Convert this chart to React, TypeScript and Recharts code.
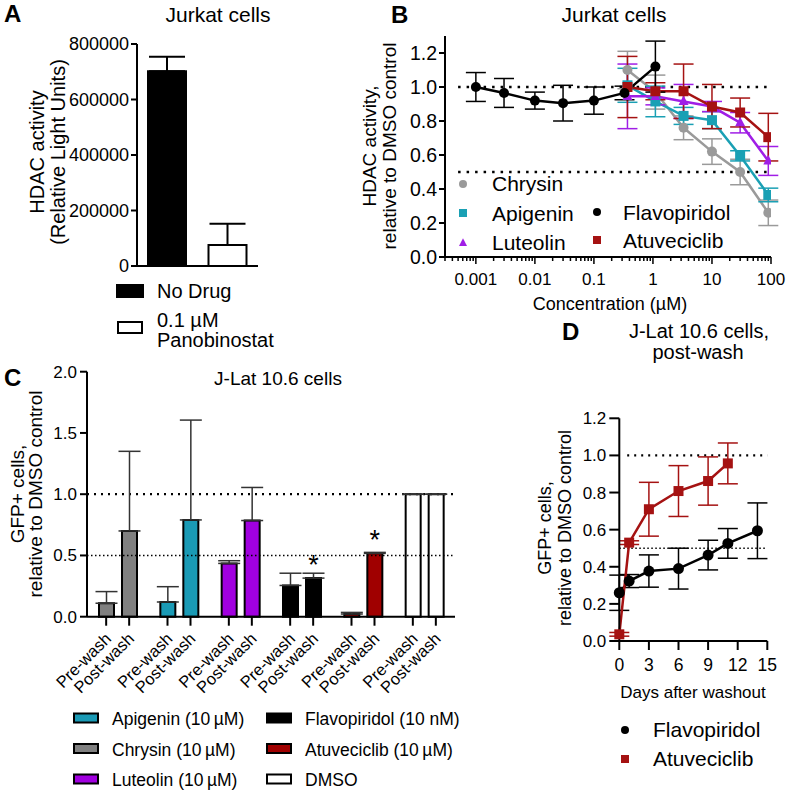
import React from 'react';
import {
  BarChart,
  Bar,
  ComposedChart,
  LineChart,
  Line,
  XAxis,
  YAxis,
  ErrorBar,
  Cell,
  ReferenceLine,
  LabelList,
} from 'recharts';

const FONT = '"Liberation Sans", Arial, Helvetica, sans-serif';

// panel A
const aGroups = ['No Drug', '0.1 µM Panobinostat'];
const aValues = [702000, 76000];
const aErrors = [52000, 76000];
const aFills = ['#000000', '#ffffff'];
const aTicks = [0, 200000, 400000, 600000, 800000];

// panel B
const bMajorTicks = [0.001, 0.01, 0.1, 1, 10, 100];
const bMajorLabels = ['0.001', '0.01', '0.1', '1', '10', '100'];
const bConc = [0.37, 1.1, 3.3, 10, 30, 90];
const flavoConc = [0.001, 0.003, 0.01, 0.03, 0.1, 0.33, 1.1];
const flavoVals = [1.0, 0.965, 0.92, 0.905, 0.92, 0.965, 1.12];
const flavoErr = [0.085, 0.085, 0.05, 0.105, 0.08, 0.04, 0.15];
const chrysinVals = [1.1, 0.97, 0.76, 0.62, 0.5, 0.26];
const chrysinErr = [0.11, 0.1, 0.07, 0.075, 0.075, 0.075];
const apigeninVals = [1.01, 0.915, 0.83, 0.805, 0.595, 0.365];
const apigeninErr = [0.1, 0.09, 0.05, 0.05, 0.03, 0.04];
const luteolinVals = [0.945, 0.945, 0.915, 0.885, 0.79, 0.565];
const luteolinErr = [0.19, 0.05, 0.1, 0.03, 0.06, 0.085];
const atuVals = [1.0, 0.975, 0.975, 0.885, 0.85, 0.705];
const atuErr = [0.18, 0.05, 0.16, 0.13, 0.085, 0.14];
const bYTicks = [0, 0.2, 0.4, 0.6, 0.8, 1.0, 1.2];

// panel C
const cDrugs = ['Chrysin', 'Apigenin', 'Luteolin', 'Flavopiridol', 'Atuveciclib', 'DMSO'];
const cPairLabels = ['Pre-wash', 'Post-wash'];
const cPre = [0.11, 0.12, 0.435, 0.255, 0.022, 1.0];
const cPreErr = [0.095, 0.125, 0.022, 0.1, 0.013, 0];
const cPost = [0.7, 0.79, 0.785, 0.315, 0.517, 1.0];
const cPostErr = [0.65, 0.815, 0.27, 0.04, 0.008, 0];
const cSig = ['', '', '', '*', '*', ''];
const cFills = ['#808080', '#1a9ab5', '#a100e0', '#000000', '#a00000', '#ffffff'];
const cYTicks = [0, 0.5, 1.0, 1.5, 2.0];
const cLegend = [
  ['Apigenin (10\u2009µM)', '#1a9ab5'],
  ['Chrysin (10\u2009µM)', '#808080'],
  ['Luteolin (10\u2009µM)', '#a100e0'],
  ['Flavopiridol (10 nM)', '#000000'],
  ['Atuveciclib (10\u2009µM)', '#a00000'],
  ['DMSO', '#ffffff'],
];

// panel D
const dFlavoDays = [0, 1, 3, 6, 9, 11, 14];
const dFlavoVals = [0.26, 0.323, 0.377, 0.39, 0.463, 0.526, 0.594];
const dFlavoErr = [0.095, 0.035, 0.087, 0.11, 0.08, 0.08, 0.15];
const dAtuDays = [0, 1, 3, 6, 9, 11];
const dAtuVals = [0.036, 0.53, 0.71, 0.808, 0.862, 0.957];
const dAtuErr = [0.01, 0.01, 0.145, 0.137, 0.13, 0.11];
const dXTicks = [0, 3, 6, 9, 12, 15];
const dYTicks = [0, 0.2, 0.4, 0.6, 0.8, 1.0, 1.2];

const GREY = '#9a9a9a';
const TEAL = '#1aa0b4';
const PURPLE = '#a01ee6';
const RED = '#a51212';

const aData = aGroups.map((name, i) => ({ name, value: aValues[i], err: [0, aErrors[i]] }));

const points = (xs: number[], ys: number[], es: number[]) =>
  xs.map((x, i) => ({ x, y: ys[i], err: es[i] }));

const bSeries = [
  { name: 'Chrysin', data: points(bConc, chrysinVals, chrysinErr), color: GREY, shape: 'circle' },
  { name: 'Apigenin', data: points(bConc, apigeninVals, apigeninErr), color: TEAL, shape: 'square' },
  { name: 'Luteolin', data: points(bConc, luteolinVals, luteolinErr), color: PURPLE, shape: 'triangle' },
  { name: 'Atuveciclib', data: points(bConc, atuVals, atuErr), color: RED, shape: 'square' },
  { name: 'Flavopiridol', data: points(flavoConc, flavoVals, flavoErr), color: '#000000', shape: 'circle' },
];

// log axis ticks: majors plus the 2..9 minors of each decade
const bTicks: number[] = [];
[0.0001, 0.001, 0.01, 0.1, 1, 10].forEach((d) => {
  for (let k = 1; k < 10; k++) {
    const v = +(d * k).toPrecision(3);
    if (v >= 0.0003) bTicks.push(v);
  }
});
bTicks.push(100);

const cData = cDrugs.map((name, i) => ({
  name,
  pre: cPre[i],
  preErr: [0, cPreErr[i]],
  post: cPost[i],
  postErr: [0, cPostErr[i]],
  sig: cSig[i],
}));

const dFlavo = points(dFlavoDays, dFlavoVals, dFlavoErr);
const dAtu = points(dAtuDays, dAtuVals, dAtuErr);

function Marker({ cx, cy, shape, color, size }: any) {
  if (cx == null || cy == null) return null;
  if (shape === 'square')
    return <rect x={cx - size / 2} y={cy - size / 2} width={size} height={size} fill={color} />;
  if (shape === 'triangle') {
    const h = size * 0.95;
    return (
      <polygon
        points={`${cx},${cy - h * 0.62} ${cx + size / 2},${cy + h * 0.38} ${cx - size / 2},${cy + h * 0.38}`}
        fill={color}
      />
    );
  }
  return <circle cx={cx} cy={cy} r={size / 2} fill={color} />;
}

const axisStyle = { stroke: '#000', strokeWidth: 2 };

function LogTick({ x, y, payload }: any) {
  const idx = bMajorTicks.indexOf(payload.value);
  const major = idx >= 0;
  return (
    <g>
      <line x1={x} x2={x} y1={y} y2={y + (major ? 7 : 4)} stroke="#000" strokeWidth={1.5} />
      {major && (
        <text x={x} y={y + 28} textAnchor="middle" fontSize={17} fontFamily={FONT} fill="#000">
          {bMajorLabels[idx]}
        </text>
      )}
    </g>
  );
}

function PairTick({ x, y }: any) {
  return (
    <g>
      {cPairLabels.map((lab, i) => {
        const tx = x + (i === 0 ? -11.5 : 11.5);
        return (
          <g key={lab}>
            <line x1={tx} x2={tx} y1={y} y2={y + 9} stroke="#000" strokeWidth={2} />
            <text
              transform={`translate(${tx + 6},${y + 23}) rotate(-45)`}
              textAnchor="end"
              fontSize={16.5}
              fontFamily={FONT}
              fill="#000"
            >
              {lab}
            </text>
          </g>
        );
      })}
    </g>
  );
}

function Star({ x, y, width, value }: any) {
  if (!value) return null;
  return (
    <text x={x + width / 2} y={y - 4} textAnchor="middle" fontSize={27} fontFamily={FONT} fill="#000">
      {value}
    </text>
  );
}

function T({ x, y, size = 20, anchor = 'middle', weight = 400, rotate = false, children }: any) {
  return (
    <text
      x={rotate ? 0 : x}
      y={rotate ? 0 : y}
      transform={rotate ? `translate(${x},${y}) rotate(-90)` : undefined}
      textAnchor={anchor}
      fontSize={size}
      fontWeight={weight}
      fontFamily={FONT}
      fill="#000"
    >
      {children}
    </text>
  );
}

const abs = (left: number, top: number): React.CSSProperties => ({ position: 'absolute', left, top });

export default function App() {
  return (
    <div style={{ position: 'absolute', left: 0, top: 0, width: 790, height: 795, background: '#fff', fontFamily: FONT }}>
      {/* A */}
      <div style={abs(0, 0)}>
        <BarChart width={270} height={300} data={aData} margin={{ top: 44, right: 12, left: 67, bottom: 24 }}>
          <XAxis dataKey="name" height={10} tick={false} tickLine={false} axisLine={axisStyle} />
          <YAxis
            width={70}
            domain={[0, 800000]}
            ticks={aTicks}
            interval={0}
            axisLine={axisStyle}
            tickLine={axisStyle}
            tickSize={6}
            tickMargin={2}
            tick={{ fill: '#000', fontSize: 18, fontFamily: FONT }}
          />
          <Bar dataKey="value" barSize={38} stroke="#000" strokeWidth={2} isAnimationActive={false}>
            {aData.map((d, i) => (
              <Cell key={d.name} fill={aFills[i]} />
            ))}
            <ErrorBar dataKey="err" width={18} stroke="#000" strokeWidth={2} />
          </Bar>
        </BarChart>
      </div>

      {/* B */}
      <div style={abs(300, 0)}>
        <ComposedChart width={490} height={300} margin={{ top: 36, right: 19, left: 85, bottom: 13 }}>
          <XAxis
            type="number"
            dataKey="x"
            scale="log"
            domain={[0.0003, 100]}
            allowDataOverflow
            ticks={bTicks}
            interval={0}
            height={30}
            axisLine={axisStyle}
            tickLine={false}
            tickSize={0}
            tickMargin={0}
            tick={<LogTick />}
          />
          <YAxis
            type="number"
            width={60}
            domain={[0, 1.3]}
            ticks={bYTicks}
            interval={0}
            axisLine={axisStyle}
            tickLine={axisStyle}
            tickSize={6}
            tickMargin={2}
            tickFormatter={(v: number) => v.toFixed(1)}
            tick={{ fill: '#000', fontSize: 19.5, fontFamily: FONT }}
          />
          <ReferenceLine
            segment={[{ x: 0.0005, y: 1 }, { x: 100, y: 1 }]}
            stroke="#000"
            strokeWidth={2.5}
            strokeDasharray="2.5 6"
          />
          <ReferenceLine
            segment={[{ x: 0.0005, y: 0.5 }, { x: 100, y: 0.5 }]}
            stroke="#000"
            strokeWidth={2.5}
            strokeDasharray="2.5 6"
          />
          {bSeries.map((s) => (
            <Line
              key={s.name}
              data={s.data}
              dataKey="y"
              type="linear"
              stroke={s.color}
              strokeWidth={2.5}
              isAnimationActive={false}
              dot={(p: any) => (
                <Marker key={`${s.name}-${p.index}`} cx={p.cx} cy={p.cy} shape={s.shape} color={s.color} size={10} />
              )}
              activeDot={false}
            >
              <ErrorBar dataKey="err" width={10} stroke={s.color} strokeWidth={1.5} direction="y" />
            </Line>
          ))}
        </ComposedChart>
      </div>

      {/* C */}
      <div style={abs(0, 300)}>
        <BarChart
          width={470}
          height={400}
          data={cData}
          barSize={15}
          barGap={8}
          margin={{ top: 71.7, right: 15, left: 42, bottom: 13.3 }}
        >
          <XAxis
            dataKey="name"
            height={70}
            interval={0}
            axisLine={axisStyle}
            tickLine={false}
            tickSize={0}
            tickMargin={0}
            tick={<PairTick />}
          />
          <YAxis
            width={45}
            domain={[0, 2]}
            ticks={cYTicks}
            interval={0}
            axisLine={axisStyle}
            tickLine={axisStyle}
            tickSize={7}
            tickMargin={3}
            tickFormatter={(v: number) => v.toFixed(1)}
            tick={{ fill: '#000', fontSize: 17, fontFamily: FONT }}
          />
          <ReferenceLine y={1} stroke="#000" strokeWidth={2.2} strokeDasharray="2 5" />
          <ReferenceLine y={0.5} stroke="#000" strokeWidth={1.5} strokeDasharray="1.5 2.5" />
          <Bar dataKey="pre" stroke="#000" strokeWidth={2} isAnimationActive={false}>
            {cData.map((d, i) => (
              <Cell key={d.name} fill={cFills[i]} />
            ))}
            <ErrorBar dataKey="preErr" width={11} stroke="#333" strokeWidth={1.5} />
          </Bar>
          <Bar dataKey="post" stroke="#000" strokeWidth={2} isAnimationActive={false}>
            {cData.map((d, i) => (
              <Cell key={d.name} fill={cFills[i]} />
            ))}
            <ErrorBar dataKey="postErr" width={11} stroke="#333" strokeWidth={1.5} />
            <LabelList dataKey="sig" content={<Star />} />
          </Bar>
        </BarChart>
      </div>

      {/* D */}
      <div style={abs(560, 300)}>
        <LineChart width={230} height={420} margin={{ top: 118.3, right: 22.7, left: 19.3, bottom: 49 }}>
          <XAxis
            type="number"
            dataKey="x"
            domain={[0, 15]}
            ticks={dXTicks}
            interval={0}
            height={30}
            axisLine={axisStyle}
            tickLine={axisStyle}
            tickSize={9}
            tickMargin={9}
            tick={{ fill: '#000', fontSize: 17.5, fontFamily: FONT }}
          />
          <YAxis
            type="number"
            width={40}
            domain={[0, 1.2]}
            ticks={dYTicks}
            interval={0}
            axisLine={axisStyle}
            tickLine={axisStyle}
            tickSize={10}
            tickMargin={3}
            tickFormatter={(v: number) => v.toFixed(1)}
            tick={{ fill: '#000', fontSize: 17, fontFamily: FONT }}
          />
          <ReferenceLine
            segment={[{ x: 0.8, y: 1 }, { x: 15, y: 1 }]}
            stroke="#000"
            strokeWidth={2.2}
            strokeDasharray="2 5"
          />
          <ReferenceLine
            segment={[{ x: 0, y: 0.5 }, { x: 15, y: 0.5 }]}
            stroke="#000"
            strokeWidth={1.5}
            strokeDasharray="1.5 2.5"
          />
          <Line
            data={dFlavo}
            dataKey="y"
            type="linear"
            stroke="#000"
            strokeWidth={2.5}
            isAnimationActive={false}
            activeDot={false}
            dot={(p: any) => <Marker key={`f-${p.index}`} cx={p.cx} cy={p.cy} shape="circle" color="#000" size={11} />}
          >
            <ErrorBar dataKey="err" width={10} stroke="#000" strokeWidth={1.5} direction="y" />
          </Line>
          <Line
            data={dAtu}
            dataKey="y"
            type="linear"
            stroke={RED}
            strokeWidth={2.5}
            isAnimationActive={false}
            activeDot={false}
            dot={(p: any) => <Marker key={`a-${p.index}`} cx={p.cx} cy={p.cy} shape="square" color={RED} size={10} />}
          >
            <ErrorBar dataKey="err" width={10} stroke={RED} strokeWidth={1.5} direction="y" />
          </Line>
        </LineChart>
      </div>

      {/* titles, axis labels and legends */}
      <svg width={790} height={795} style={{ position: 'absolute', left: 0, top: 0, pointerEvents: 'none' }}>
        <T x={4} y={22} size={24} weight={700} anchor="start">A</T>
        <T x={218} y={22} size={21}>Jurkat cells</T>
        <T x={44} y={152} size={20} rotate>HDAC activity</T>
        <T x={65} y={152} size={20} rotate>(Relative Light Units)</T>
        <rect x={117} y={285} width={26} height={12} fill="#000" stroke="#000" strokeWidth={2} />
        <T x={157} y={298} size={20} anchor="start">{aGroups[0]}</T>
        <rect x={118} y={322} width={24} height={11} fill="#fff" stroke="#000" strokeWidth={2} />
        <T x={157} y={327} size={20} anchor="start">0.1 µM</T>
        <T x={157} y={347} size={20} anchor="start">Panobinostat</T>

        <T x={391} y={23} size={24} weight={700} anchor="start">B</T>
        <T x={614} y={22} size={21}>Jurkat cells</T>
        <T x={376} y={146} size={19} rotate>HDAC activity,</T>
        <T x={396} y={146} size={19} rotate>relative to DMSO control</T>
        <T x={610} y={310} size={18}>Concentration (µM)</T>
        <Marker cx={463} cy={184} shape="circle" color={GREY} size={8} />
        <T x={492} y={191} size={21} anchor="start">Chrysin</T>
        <Marker cx={463} cy={213} shape="square" color={TEAL} size={8} />
        <T x={492} y={221} size={21} anchor="start">Apigenin</T>
        <Marker cx={463} cy={243} shape="triangle" color={PURPLE} size={8} />
        <T x={492} y={250} size={21} anchor="start">Luteolin</T>
        <Marker cx={597} cy={212} shape="circle" color="#000" size={8} />
        <T x={623} y={220} size={21} anchor="start">Flavopiridol</T>
        <Marker cx={597} cy={240} shape="square" color={RED} size={8} />
        <T x={623} y={248} size={21} anchor="start">Atuveciclib</T>

        <T x={4} y={386} size={24} weight={700} anchor="start">C</T>
        <T x={278} y={385} size={19}>J-Lat 10.6 cells</T>
        <T x={24} y={494} size={19} rotate>GFP+ cells,</T>
        <T x={42} y={494} size={19} rotate>relative to DMSO control</T>
        {cLegend.map(([label, color], i) => {
          const col = Math.floor(i / 3);
          const row = i % 3;
          const sx = col === 0 ? 74 : 267;
          const cy = 718 + row * 30.5;
          return (
            <g key={label}>
              <rect x={sx} y={cy - 4.5} width={24} height={9} fill={color} stroke="#000" strokeWidth={2} />
              <T x={sx + 38} y={cy + 7} size={17.5} anchor="start">{label}</T>
            </g>
          );
        })}

        <T x={562} y={340} size={24} weight={700} anchor="start">D</T>
        <T x={699} y={338} size={20}>J-Lat 10.6 cells,</T>
        <T x={698} y={359} size={20}>post-wash</T>
        <T x={551} y={528} size={18} rotate>GFP+ cells,</T>
        <T x={571} y={528} size={18} rotate>relative to DMSO control</T>
        <T x={693} y={698} size={17}>Days after washout</T>
        <Marker cx={625} cy={730} shape="circle" color="#000" size={8} />
        <T x={653} y={737} size={21} anchor="start">Flavopiridol</T>
        <Marker cx={625} cy={759} shape="square" color={RED} size={8} />
        <T x={653} y={766} size={21} anchor="start">Atuveciclib</T>
      </svg>
    </div>
  );
}
